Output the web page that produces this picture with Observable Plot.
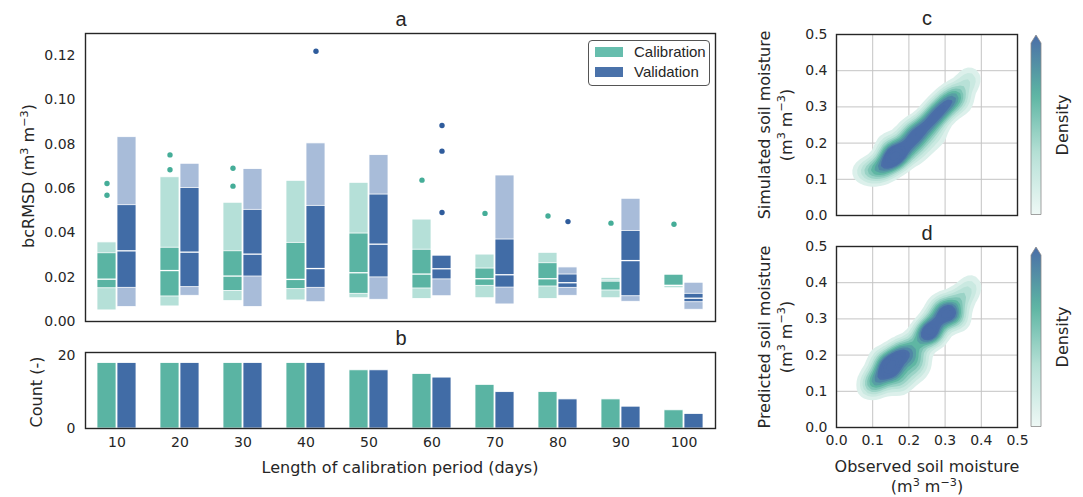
<!DOCTYPE html>
<html><head><meta charset="utf-8">
<script src="https://cdn.jsdelivr.net/npm/d3@7"></script>
<script src="https://cdn.jsdelivr.net/npm/@observablehq/plot@0.6"></script>
<style>
body{margin:0;background:#fff;width:1083px;height:497px;position:relative;overflow:hidden;font-family:"DejaVu Sans",sans-serif;color:#262626}
.abs{position:absolute}
.c{position:absolute;transform:translate(-50%,-50%);white-space:nowrap;line-height:1.25;text-align:center}
.r{position:absolute;transform:translate(-50%,-50%) rotate(-90deg);white-space:nowrap;line-height:1.4;text-align:center}
.t{font-family:"Liberation Sans",Arial,sans-serif;font-size:20px}
.l{font-size:16px}
.sup{font-size:0.7em;vertical-align:0.55em;line-height:0}
svg{overflow:visible}
</style></head><body>
<div id="pa" class="abs" style="left:0;top:0"></div>
<div id="pb" class="abs" style="left:0;top:340px"></div>
<div id="pc" class="abs" style="left:790px;top:0"></div>
<div id="pd" class="abs" style="left:790px;top:235px"></div>
<div id="cbc" class="abs" style="left:1030px;top:34px"></div>
<div id="cbd" class="abs" style="left:1030px;top:246px"></div>

<div class="c t" style="left:401px;top:19px">a</div>
<div class="c t" style="left:401px;top:338px">b</div>
<div class="c t" style="left:927px;top:18px">c</div>
<div class="c t" style="left:927px;top:233px">d</div>
<div class="r l" style="left:29px;top:176px">bcRMSD (m<span class="sup">3</span> m<span class="sup">−3</span>)</div>
<div class="r l" style="left:37px;top:392px">Count (-)</div>
<div class="c l" style="left:400px;top:468px">Length of calibration period (days)</div>
<div class="r l" style="left:776px;top:125px">Simulated soil moisture<br>(m<span class="sup">3</span> m<span class="sup">−3</span>)</div>
<div class="r l" style="left:776px;top:337px">Predicted soil moisture<br>(m<span class="sup">3</span> m<span class="sup">−3</span>)</div>
<div class="c l" style="left:927px;top:477px">Observed soil moisture<br>(m<span class="sup">3</span> m<span class="sup">−3</span>)</div>
<div class="r l" style="left:1063px;top:125px">Density</div>
<div class="r l" style="left:1063px;top:337px">Density</div>

<div class="abs" style="left:588px;top:40px;width:120px;height:44px;border:1px solid #555;border-radius:4px;background:#fff;font-family:'Liberation Sans',Arial,sans-serif;font-size:15px">
  <div class="abs" style="left:6px;top:6px;width:28px;height:10px;background:#66bdad"></div>
  <div class="abs" style="left:45px;top:2px">Calibration</div>
  <div class="abs" style="left:6px;top:26px;width:28px;height:10px;background:#4a72aa"></div>
  <div class="abs" style="left:45px;top:22px">Validation</div>
</div>

<script>
// ---------- data: panel a (letter-value boxes) ----------
const periods = [10, 20, 30, 40, 50, 60, 70, 80, 90, 100];
const calLo2 = [0.0050, 0.0068, 0.0092, 0.0095, 0.0105, 0.0102, 0.0105, 0.0102, 0.0105, 0.0150];
const calLo1 = [0.0150, 0.0113, 0.0138, 0.0146, 0.0125, 0.0149, 0.0161, 0.0158, 0.0140, 0.0161];
const calMed = [0.0191, 0.0230, 0.0205, 0.0190, 0.0220, 0.0214, 0.0193, 0.0193, 0.0183, 0.0163];
const calHi1 = [0.0308, 0.0333, 0.0317, 0.0355, 0.0397, 0.0324, 0.0239, 0.0263, 0.0186, 0.0211];
const calHi2 = [0.0357, 0.0651, 0.0536, 0.0635, 0.0626, 0.0460, 0.0302, 0.0310, 0.0197, 0.0211];
const valLo2 = [0.0065, 0.0116, 0.0065, 0.0087, 0.0098, 0.0114, 0.0077, 0.0116, 0.0089, 0.0053];
const valLo1 = [0.0152, 0.0155, 0.0203, 0.0152, 0.0199, 0.0190, 0.0153, 0.0152, 0.0114, 0.0087];
const valMed = [0.0319, 0.0313, 0.0304, 0.0239, 0.0349, 0.0238, 0.0211, 0.0175, 0.0275, 0.0105];
const valHi1 = [0.0525, 0.0603, 0.0504, 0.0522, 0.0573, 0.0297, 0.0370, 0.0212, 0.0409, 0.0125];
const valHi2 = [0.0832, 0.0712, 0.0688, 0.0804, 0.0751, 0.0297, 0.0659, 0.0244, 0.0554, 0.0175];
const calOutPeriod = [10, 10, 20, 20, 30, 30, 60, 70, 80, 90, 100];
const calOutValue  = [0.0623, 0.0570, 0.0752, 0.0685, 0.0692, 0.0611, 0.0638, 0.0488, 0.0476, 0.0444, 0.0439];
const valOutPeriod = [40, 60, 60, 60, 80];
const valOutValue  = [0.1220, 0.0885, 0.0769, 0.0492, 0.0451];
const yTicksA = [0, 0.02, 0.04, 0.06, 0.08, 0.10, 0.12];

// ---------- data: panel b (counts) ----------
const calCount = [18, 18, 18, 18, 16, 15, 12, 10, 8, 5];
const valCount = [18, 18, 18, 18, 16, 14, 10, 8, 6, 4];
const yTicksB = [0, 20];

// ---------- data: panels c, d (point clouds for density) ----------
const cObs = [0.12,0.13,0.14,0.15,0.16,0.16,0.17,0.18,0.14,0.15,0.19,0.13,0.17,0.18,0.15,0.16,0.11,0.19,
              0.20,0.21,0.22,0.23,0.22,0.20,0.21,0.23,0.24,
              0.24,0.25,0.26,0.27,0.28,0.29,0.30,0.31,0.32,0.33,0.34,0.28,0.30,0.26,0.32,0.29,0.27,0.31,
              0.07,0.09,0.10,0.36,0.37,0.22,0.25,0.14,0.20,0.28,0.35];
const cSim = [0.13,0.15,0.14,0.16,0.15,0.17,0.16,0.18,0.17,0.18,0.17,0.12,0.19,0.16,0.14,0.16,0.13,0.19,
              0.20,0.22,0.22,0.24,0.20,0.21,0.21,0.23,0.24,
              0.25,0.26,0.27,0.28,0.29,0.30,0.31,0.32,0.33,0.34,0.34,0.27,0.29,0.25,0.31,0.29,0.27,0.31,
              0.12,0.13,0.11,0.37,0.38,0.17,0.20,0.20,0.24,0.22,0.31];
const dObs  = [0.13,0.14,0.15,0.15,0.16,0.14,0.16,0.12,0.11,0.12,0.17,0.18,0.19,0.21,0.20,0.22,0.19,0.23,
               0.22,0.24,0.25,0.26,0.27,0.26,0.25,0.28,0.30,0.31,0.31,0.32,0.30,0.33,0.29,0.34,0.37,0.35,
               0.09,0.10,0.17,0.27];
const dPred = [0.16,0.17,0.16,0.18,0.17,0.15,0.19,0.13,0.12,0.19,0.21,0.20,0.22,0.21,0.18,0.16,0.14,0.19,
               0.24,0.26,0.27,0.27,0.28,0.26,0.25,0.26,0.31,0.31,0.30,0.32,0.33,0.35,0.34,0.30,0.39,0.36,
               0.11,0.14,0.12,0.31];
const gridTicks = [0, 0.1, 0.2, 0.3, 0.4, 0.5];

// ---------- colours ----------
const calDark = "#5ab4a3", calLight = "#b5e0d8", calDot = "#45ad98";
const valDark = "#416ca6", valLight = "#a8bcd9", valDot = "#2f5c9c";
const densColors = ["#eef8f5", "#b7e1d7", "#5db5a2", "#4a6da8"];
const densInterp = d3.piecewise(d3.interpolateRgb, densColors);

const cal = periods.map((p, i) => ({period: p, lo2: calLo2[i], lo1: calLo1[i], med: calMed[i], hi1: calHi1[i], hi2: calHi2[i], count: calCount[i]}));
const val = periods.map((p, i) => ({period: p, lo2: valLo2[i], lo1: valLo1[i], med: valMed[i], hi1: valHi1[i], hi2: valHi2[i], count: valCount[i]}));
const calOut = calOutPeriod.map((p, i) => ({period: p, v: calOutValue[i]}));
const valOut = valOutPeriod.map((p, i) => ({period: p, v: valOutValue[i]}));

const baseStyle = {fontSize: "14px", fontFamily: "DejaVu Sans", color: "#262626", background: "transparent", overflow: "visible"};
const xBand = {type: "band", domain: periods, paddingInner: 0.7, paddingOuter: 0.35};
const OFF = 10;

// ---------- panel a ----------
const pa = Plot.plot({
  width: 730, height: 330, marginTop: 33, marginBottom: 9, marginLeft: 85, marginRight: 15,
  style: baseStyle,
  x: {...xBand, axis: null},
  y: {domain: [0, 0.13], ticks: yTicksA, tickFormat: d3.format(".2f"), tickSize: 0, tickPadding: 10, label: null},
  marks: [
    Plot.barY(cal, {x: "period", y1: "lo2", y2: "hi2", fill: calLight, stroke: "white", strokeWidth: 0.8, dx: -OFF}),
    Plot.barY(cal, {x: "period", y1: "lo1", y2: "hi1", fill: calDark, stroke: "white", strokeWidth: 0.8, dx: -OFF}),
    Plot.tickY(cal, {x: "period", y: "med", stroke: "white", strokeWidth: 1.3, dx: -OFF}),
    Plot.barY(val, {x: "period", y1: "lo2", y2: "hi2", fill: valLight, stroke: "white", strokeWidth: 0.8, dx: OFF}),
    Plot.barY(val, {x: "period", y1: "lo1", y2: "hi1", fill: valDark, stroke: "white", strokeWidth: 0.8, dx: OFF}),
    Plot.tickY(val, {x: "period", y: "med", stroke: "white", strokeWidth: 1.3, dx: OFF}),
    Plot.dot(calOut, {x: "period", y: "v", r: 2.7, fill: calDot, dx: -OFF}),
    Plot.dot(valOut, {x: "period", y: "v", r: 2.7, fill: valDot, dx: OFF}),
    Plot.frame({stroke: "#262626", strokeWidth: 1.4})
  ]
});
document.getElementById("pa").appendChild(pa);

// ---------- panel b ----------
const pb = Plot.plot({
  width: 730, height: 120, marginTop: 12, marginBottom: 32, marginLeft: 85, marginRight: 15,
  style: baseStyle,
  x: {...xBand, tickSize: 0, tickPadding: 9, tickFormat: d => String(d), label: null},
  y: {domain: [0, 20.9], ticks: yTicksB, tickSize: 0, tickPadding: 10, label: null},
  marks: [
    Plot.barY(cal, {x: "period", y: "count", fill: calDark, stroke: "white", strokeWidth: 0.8, dx: -OFF}),
    Plot.barY(val, {x: "period", y: "count", fill: valDark, stroke: "white", strokeWidth: 0.8, dx: OFF}),
    Plot.frame({stroke: "#262626", strokeWidth: 1.4})
  ]
});
document.getElementById("pb").appendChild(pb);

// ---------- panels c, d ----------
function densPanel(obs, other, showX, h, mt, mb) {
  const rows = obs.map((o, i) => ({obs: o, y: other[i]}));
  const make = (colorOpts) => Plot.plot({
    width: 240, height: h, marginTop: mt, marginBottom: mb, marginLeft: 46, marginRight: 13,
    style: baseStyle,
    x: showX ? {domain: [0, 0.5], ticks: gridTicks, tickFormat: d3.format(".1f"), tickSize: 0, tickPadding: 8, label: null}
             : {domain: [0, 0.5], axis: null},
    y: {domain: [0, 0.5], ticks: gridTicks, tickFormat: d3.format(".1f"), tickSize: 0, tickPadding: 9, label: null},
    color: colorOpts,
    marks: [
      Plot.ruleX(gridTicks, {stroke: "#c4c4c4", strokeWidth: 1}),
      Plot.ruleY(gridTicks, {stroke: "#c4c4c4", strokeWidth: 1}),
      Plot.density(rows, {x: "obs", y: "y", fill: "density", bandwidth: 6, thresholds: 14}),
      Plot.frame({stroke: "#262626", strokeWidth: 1.4})
    ]
  });
  // first pass to read the density range, then clamp the top (colorbar "extend max")
  const probe = make({type: "linear", interpolate: densInterp});
  const [d0, d1] = probe.scale("color").domain;
  return make({type: "linear", interpolate: densInterp, domain: [d0, d0 + (d1 - d0) * 0.7], clamp: true});
}
document.getElementById("pc").appendChild(densPanel(cObs, cSim, false, 225, 34, 10));
document.getElementById("pd").appendChild(densPanel(dObs, dPred, true, 220, 11, 28));

// ---------- colorbars ----------
function colorbar(id, H) {
  const W = 12;
  const svg = d3.select("#" + id).append("svg").attr("width", W).attr("height", H);
  const gid = "g" + id;
  const grad = svg.append("defs").append("linearGradient").attr("id", gid)
    .attr("x1", 0).attr("y1", 1).attr("x2", 0).attr("y2", 0);
  d3.range(0, 1.0001, 0.05).forEach(t => grad.append("stop").attr("offset", t).attr("stop-color", densInterp(t)));
  svg.append("path")
    .attr("d", `M1,9 L${W/2},1 L${W-1},9 L${W-1},${H-0.5} L1,${H-0.5} Z`)
    .attr("fill", `url(#${gid})`).attr("stroke", "#8a8a8a").attr("stroke-width", 0.8);
}
colorbar("cbc", 181);
colorbar("cbd", 181);
</script>
</body></html>
